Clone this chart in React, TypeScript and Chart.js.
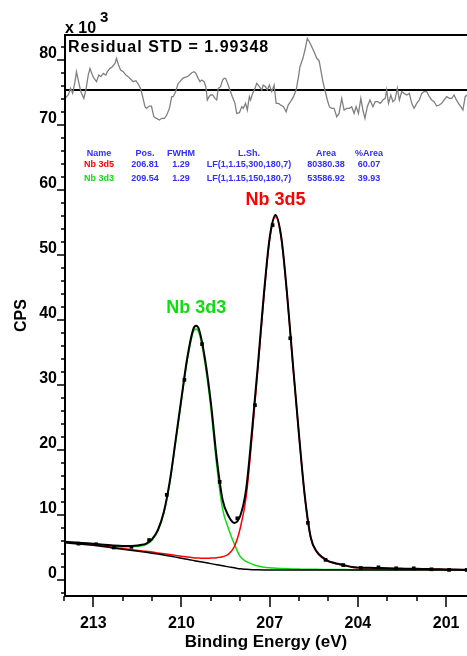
import React, { useEffect, useRef } from 'react';
import { Chart, registerables } from 'chart.js';

Chart.register(...registerables);

const FONT = "'Liberation Sans', Arial, Helvetica, sans-serif";

// Binding energy grid (eV) for the fitted curves
const energy = [214.0, 213.6, 213.2, 212.8, 212.4, 212.0, 211.8, 211.6, 211.4, 211.2, 211.0, 210.8, 210.6, 210.4, 210.2, 210.0, 209.8, 209.6, 209.5, 209.4, 209.2, 209.0, 208.8, 208.6, 208.4, 208.2, 208.0, 207.8, 207.6, 207.4, 207.2, 207.0, 206.8, 206.6, 206.4, 206.2, 206.0, 205.8, 205.6, 205.4, 205.2, 205.0, 204.8, 204.6, 204.4, 204.2, 204.0, 203.6, 203.2, 202.8, 202.4, 202.0, 201.6, 201.2, 200.8, 200.4, 200.2];

// CPS (x 10^3)
const envelopeCps = [5.91, 5.76, 5.64, 5.50, 5.34, 5.24, 5.24, 5.27, 5.38, 5.61, 6.30, 7.72, 10.45, 15.09, 21.44, 27.99, 34.24, 38.57, 39.10, 38.50, 34.03, 27.31, 18.69, 12.31, 9.86, 8.78, 9.88, 13.98, 22.98, 33.12, 43.82, 52.68, 56.16, 52.57, 43.57, 32.67, 22.21, 12.71, 6.50, 4.39, 3.48, 2.92, 2.63, 2.41, 2.21, 2.01, 1.93, 1.87, 1.84, 1.78, 1.75, 1.72, 1.68, 1.65, 1.61, 1.59, 1.59];
const nb3d5Cps = [5.81, 5.65, 5.50, 5.31, 5.08, 4.85, 4.74, 4.63, 4.52, 4.41, 4.30, 4.17, 4.04, 3.91, 3.79, 3.67, 3.54, 3.44, 3.40, 3.37, 3.33, 3.39, 3.44, 3.59, 3.98, 5.15, 8.00, 12.77, 22.11, 32.53, 43.39, 52.35, 55.89, 52.35, 43.39, 32.52, 22.08, 12.60, 6.40, 4.30, 3.40, 2.85, 2.57, 2.36, 2.16, 1.97, 1.89, 1.84, 1.81, 1.76, 1.73, 1.70, 1.67, 1.64, 1.60, 1.58, 1.58];
const nb3d3Cps = [5.84, 5.69, 5.56, 5.41, 5.24, 5.13, 5.12, 5.14, 5.24, 5.46, 6.13, 7.54, 10.25, 14.86, 21.17, 27.68, 33.89, 38.15, 38.63, 37.98, 33.38, 26.44, 17.60, 10.90, 7.90, 5.50, 3.60, 2.85, 2.45, 2.15, 1.98, 1.88, 1.82, 1.77, 1.73, 1.70, 1.68, 1.66, 1.65, 1.64, 1.63, 1.62, 1.61, 1.60, 1.60, 1.59, 1.59, 1.58, 1.58, 1.57, 1.57, 1.57, 1.56, 1.56, 1.56, 1.56, 1.56];
const backgroundCps = [5.74, 5.58, 5.42, 5.22, 4.98, 4.74, 4.62, 4.50, 4.38, 4.26, 4.13, 3.99, 3.84, 3.68, 3.52, 3.36, 3.19, 3.02, 2.93, 2.85, 2.68, 2.52, 2.35, 2.18, 2.02, 1.87, 1.72, 1.64, 1.58, 1.56, 1.55, 1.55, 1.55, 1.55, 1.55, 1.55, 1.55, 1.55, 1.55, 1.55, 1.55, 1.55, 1.55, 1.55, 1.55, 1.55, 1.55, 1.55, 1.55, 1.55, 1.55, 1.55, 1.55, 1.55, 1.55, 1.55, 1.55];

// Data markers
const markerEnergy = [213.5, 212.9, 212.3, 211.7, 211.1, 210.5, 209.9, 209.3, 208.7, 208.1, 207.5, 206.9, 206.3, 205.7, 205.1, 204.5, 203.9, 203.3, 202.7, 202.1, 201.5, 200.9, 200.3];
const markerCps = [5.6, 5.5, 5.0, 5.1, 6.15, 13.1, 30.8, 36.3, 15.1, 9.5, 26.9, 54.6, 37.2, 8.8, 3.1, 2.3, 1.85, 1.95, 1.8, 1.8, 1.65, 1.55, 1.55];

// Residual trace (plotted in the upper band of the same axis)
const residualEnergy = [213.96, 213.85, 213.77, 213.70, 213.62, 213.57, 213.51, 213.42, 213.32, 213.25, 213.17, 213.11, 213.03, 212.97, 212.89, 212.81, 212.74, 212.66, 212.57, 212.52, 212.43, 212.35, 212.26, 212.21, 212.14, 212.07, 211.98, 211.89, 211.81, 211.72, 211.64, 211.55, 211.47, 211.39, 211.32, 211.24, 211.19, 211.09, 211.02, 210.94, 210.85, 210.75, 210.67, 210.58, 210.50, 210.41, 210.33, 210.28, 210.20, 210.11, 210.05, 209.96, 209.88, 209.80, 209.73, 209.65, 209.57, 209.51, 209.43, 209.37, 209.31, 209.23, 209.17, 209.12, 209.06, 209.01, 208.94, 208.86, 208.80, 208.75, 208.67, 208.60, 208.55, 208.50, 208.43, 208.35, 208.27, 208.18, 208.12, 208.03, 207.95, 207.90, 207.82, 207.76, 207.69, 207.65, 207.58, 207.50, 207.44, 207.35, 207.27, 207.22, 207.14, 207.08, 207.01, 206.93, 206.85, 206.78, 206.70, 206.63, 206.53, 206.44, 206.37, 206.29, 206.19, 206.10, 206.02, 205.97, 205.87, 205.80, 205.72, 205.65, 205.57, 205.49, 205.40, 205.32, 205.26, 205.19, 205.12, 205.04, 204.97, 204.89, 204.81, 204.72, 204.64, 204.55, 204.47, 204.38, 204.29, 204.21, 204.13, 204.06, 203.98, 203.90, 203.83, 203.76, 203.68, 203.59, 203.49, 203.41, 203.33, 203.24, 203.15, 203.07, 203.02, 202.96, 202.88, 202.81, 202.74, 202.66, 202.59, 202.51, 202.43, 202.34, 202.25, 202.17, 202.09, 202.00, 201.91, 201.83, 201.75, 201.66, 201.57, 201.49, 201.41, 201.32, 201.23, 201.15, 201.07, 200.98, 200.89, 200.81, 200.73, 200.66, 200.58, 200.50, 200.43, 200.35, 200.29];
const residualCps = [74.10, 74.62, 75.64, 74.87, 76.67, 78.21, 76.92, 75.13, 74.10, 75.38, 77.69, 78.72, 77.69, 77.18, 76.67, 77.69, 77.44, 77.95, 77.69, 78.21, 78.72, 78.97, 79.49, 80.26, 79.23, 78.46, 78.21, 77.69, 77.44, 77.03, 76.67, 76.82, 76.31, 75.64, 74.36, 72.82, 72.56, 72.92, 72.92, 71.28, 71.03, 70.77, 71.03, 71.03, 71.54, 72.56, 74.36, 74.36, 75.13, 76.41, 76.67, 77.18, 77.33, 77.44, 77.69, 78.05, 78.21, 77.95, 77.18, 76.67, 76.92, 76.67, 75.90, 73.85, 74.36, 74.62, 74.62, 74.10, 73.85, 75.64, 75.90, 76.92, 77.18, 77.18, 76.41, 75.38, 74.36, 73.33, 71.79, 71.90, 72.82, 72.56, 73.33, 72.31, 74.36, 73.85, 74.87, 75.64, 76.41, 75.90, 75.38, 76.15, 75.90, 75.38, 76.15, 75.13, 76.15, 73.33, 73.33, 73.08, 72.82, 72.05, 73.08, 73.59, 74.36, 75.38, 77.44, 78.97, 80.26, 81.54, 83.33, 82.82, 82.05, 81.28, 80.26, 79.90, 78.46, 76.67, 75.38, 73.85, 72.82, 72.56, 72.56, 71.28, 71.79, 74.10, 72.31, 72.56, 72.56, 72.82, 71.79, 72.82, 71.79, 74.10, 72.31, 71.03, 72.82, 73.85, 72.82, 73.59, 73.59, 73.33, 73.85, 74.10, 75.38, 73.33, 74.62, 73.59, 73.85, 75.64, 73.85, 75.13, 74.87, 74.62, 74.87, 73.33, 72.56, 73.33, 73.85, 74.87, 75.13, 75.13, 74.36, 73.85, 73.59, 72.92, 73.08, 73.33, 73.85, 74.36, 74.10, 74.10, 74.62, 73.95, 73.33, 72.82, 72.31, 74.36, 74.62];
const residualZero = 75.34;
const residualStd = '1.99348';

// Axis ticks
const xTickLabels = [201, 204, 207, 210, 213];
const yTickLabels = [0, 10, 20, 30, 40, 50, 60, 70, 80];

// Peak table
const tableHeader = ['Name', 'Pos.', 'FWHM', 'L.Sh.', 'Area', '%Area'];
const peakNames = ['Nb 3d5', 'Nb 3d3'];
const peakPositions = ['206.81', '209.54'];
const peakFwhm = ['1.29', '1.29'];
const peakLineShapes = ['LF(1,1.15,300,180,7)', 'LF(1,1.15,150,180,7)'];
const peakAreas = ['80380.38', '53586.92'];
const peakPercent = ['60.07', '39.93'];
const peakCenters = [206.8, 209.5];
const peakLabelCps = [58.5, 41.8];
const RED = '#ff0000';
const GREEN = '#10dd10';
const BLUE = '#2f2fff';
const peakColors = [RED, GREEN];

const pts = (xs: number[], ys: number[]) => xs.map((x, i) => ({ x, y: ys[i] }));

const decorPlugin = {
  id: 'decor',
  beforeDatasetsDraw(chart: any) {
    const { ctx, chartArea: ca, scales } = chart;
    const y0 = Math.round(scales.y.getPixelForValue(residualZero));
    ctx.save();
    ctx.strokeStyle = '#000';
    ctx.lineWidth = 2;
    ctx.beginPath();
    ctx.moveTo(ca.left, y0);
    ctx.lineTo(ca.right, y0);
    ctx.stroke();
    ctx.restore();
  },
  afterDraw(chart: any) {
    const { ctx, chartArea: ca, scales } = chart;
    const xs = scales.x;
    const ys = scales.y;
    ctx.save();
    // axes frame
    ctx.strokeStyle = '#000';
    ctx.lineWidth = 2;
    ctx.beginPath();
    ctx.moveTo(ca.left, ca.bottom);
    ctx.lineTo(ca.left, ca.top);
    ctx.lineTo(ca.right, ca.top);
    ctx.moveTo(ca.left - 1, ca.bottom);
    ctx.lineTo(ca.right, ca.bottom);
    ctx.stroke();
    // ticks
    ctx.lineWidth = 1.5;
    ctx.beginPath();
    for (let v = -2; v <= 82; v += 2) {
      const py = Math.round(ys.getPixelForValue(v));
      const len = v % 10 === 0 ? 8 : 4;
      ctx.moveTo(ca.left - len, py);
      ctx.lineTo(ca.left, py);
    }
    for (let v = 201; v <= 214; v++) {
      const px = Math.round(xs.getPixelForValue(v));
      if (px < ca.left - 2 || px > ca.right) continue;
      const len = v % 3 === 0 ? 11 : 5;
      ctx.moveTo(px, ca.bottom);
      ctx.lineTo(px, ca.bottom + len);
    }
    ctx.stroke();

    // x 10^3
    ctx.fillStyle = '#000';
    ctx.textAlign = 'left';
    ctx.textBaseline = 'alphabetic';
    ctx.font = `bold 16px ${FONT}`;
    ctx.fillText('x 10', 65, 33);
    ctx.font = `bold 15px ${FONT}`;
    ctx.fillText('3', 100, 22);

    // residual STD
    ctx.font = `bold 16px ${FONT}`;
    (ctx as any).letterSpacing = '1px';
    ctx.fillText(`Residual STD = ${residualStd}`, 68, 52);
    (ctx as any).letterSpacing = '0px';

    // peak table
    const colX = [99, 145, 181, 249, 326, 369];
    const rowY = [154, 165, 179];
    ctx.font = `bold 9px ${FONT}`;
    ctx.textAlign = 'center';
    ctx.textBaseline = 'middle';
    ctx.fillStyle = BLUE;
    tableHeader.forEach((t, i) => ctx.fillText(t, colX[i], rowY[0]));
    peakNames.forEach((name, r) => {
      const y = rowY[r + 1];
      ctx.fillStyle = peakColors[r];
      ctx.fillText(name, colX[0], y);
      ctx.fillStyle = BLUE;
      ctx.fillText(peakPositions[r], colX[1], y);
      ctx.fillText(peakFwhm[r], colX[2], y);
      ctx.fillText(peakLineShapes[r], colX[3], y);
      ctx.fillText(peakAreas[r], colX[4], y);
      ctx.fillText(peakPercent[r], colX[5], y);
    });

    // peak labels
    ctx.font = `bold 18px ${FONT}`;
    peakNames.forEach((name, i) => {
      ctx.fillStyle = peakColors[i];
      ctx.fillText(name, xs.getPixelForValue(peakCenters[i]), ys.getPixelForValue(peakLabelCps[i]));
    });
    ctx.restore();
  },
};

export default function App() {
  const canvasRef = useRef<HTMLCanvasElement | null>(null);

  useEffect(() => {
    const canvas = canvasRef.current;
    if (!canvas) return;
    const tickFont = { family: FONT, size: 16, weight: 'bold' as const };
    const chart = new Chart(canvas, {
      type: 'line',
      data: {
        datasets: [
          {
            label: 'Data',
            data: pts(markerEnergy, markerCps),
            showLine: false,
            pointStyle: 'rect',
            pointRadius: 2.6,
            pointBackgroundColor: '#000',
            pointBorderColor: '#000',
            pointBorderWidth: 0,
            borderColor: '#000',
            order: 0,
          },
          {
            label: 'Envelope',
            data: pts(energy, envelopeCps),
            borderColor: '#000',
            borderWidth: 2,
            pointRadius: 0,
            cubicInterpolationMode: 'monotone',
            order: 1,
          },
          {
            label: 'Background',
            data: pts(energy, backgroundCps),
            borderColor: '#000',
            borderWidth: 1.5,
            pointRadius: 0,
            cubicInterpolationMode: 'monotone',
            order: 2,
          },
          {
            label: 'Nb 3d5',
            data: pts(energy, nb3d5Cps),
            borderColor: RED,
            borderWidth: 1.5,
            pointRadius: 0,
            cubicInterpolationMode: 'monotone',
            order: 3,
          },
          {
            label: 'Nb 3d3',
            data: pts(energy, nb3d3Cps),
            borderColor: GREEN,
            borderWidth: 1.5,
            pointRadius: 0,
            cubicInterpolationMode: 'monotone',
            order: 4,
          },
          {
            label: 'Residual',
            data: pts(residualEnergy, residualCps),
            borderColor: '#808080',
            borderWidth: 1.3,
            pointRadius: 0,
            tension: 0,
            order: 5,
          },
        ],
      },
      options: {
        animation: false,
        responsive: false,
        devicePixelRatio: 1,
        events: [],
        layout: { autoPadding: false, padding: { top: 35, left: 0, right: 0, bottom: 0 } },
        plugins: { legend: { display: false }, tooltip: { enabled: false }, title: { display: false } },
        scales: {
          x: {
            type: 'linear',
            reverse: true,
            min: 200.29,
            max: 213.96,
            afterBuildTicks: (s: any) => {
              s.ticks = xTickLabels.map((v) => ({ value: v }));
            },
            afterFit: (s: any) => {
              s.height = 60;
              s.paddingLeft = 0;
              s.paddingRight = 0;
            },
            grid: { display: false, drawTicks: false },
            border: { display: false },
            ticks: {
              padding: 18,
              color: '#000',
              font: tickFont,
              maxRotation: 0,
              autoSkip: false,
              callback: (v: any) => String(v),
            },
            title: {
              display: true,
              text: 'Binding Energy (eV)',
              color: '#000',
              font: { family: FONT, size: 17, weight: 'bold' },
              padding: { top: 0, bottom: 3 },
            },
          },
          y: {
            type: 'linear',
            min: -2.46,
            max: 83.85,
            afterBuildTicks: (s: any) => {
              s.ticks = yTickLabels.map((v) => ({ value: v }));
            },
            afterFit: (s: any) => {
              s.width = 65;
              s.paddingTop = 0;
              s.paddingBottom = 0;
            },
            grid: { display: false, drawTicks: false },
            border: { display: false },
            ticks: {
              padding: 8,
              labelOffset: -6,
              color: '#000',
              font: tickFont,
              autoSkip: false,
              callback: (v: any) => String(v),
            },
            title: {
              display: true,
              text: 'CPS',
              color: '#000',
              font: { family: FONT, size: 16, weight: 'bold' },
              padding: { top: 12, bottom: 0 },
            },
          },
        },
      },
      plugins: [decorPlugin],
    } as any);
    return () => chart.destroy();
  }, []);

  return (
    <div style={{ position: 'absolute', left: 0, top: 0, width: 467, height: 656, background: '#fff' }}>
      <canvas ref={canvasRef} width={467} height={656} style={{ display: 'block' }} />
    </div>
  );
}
